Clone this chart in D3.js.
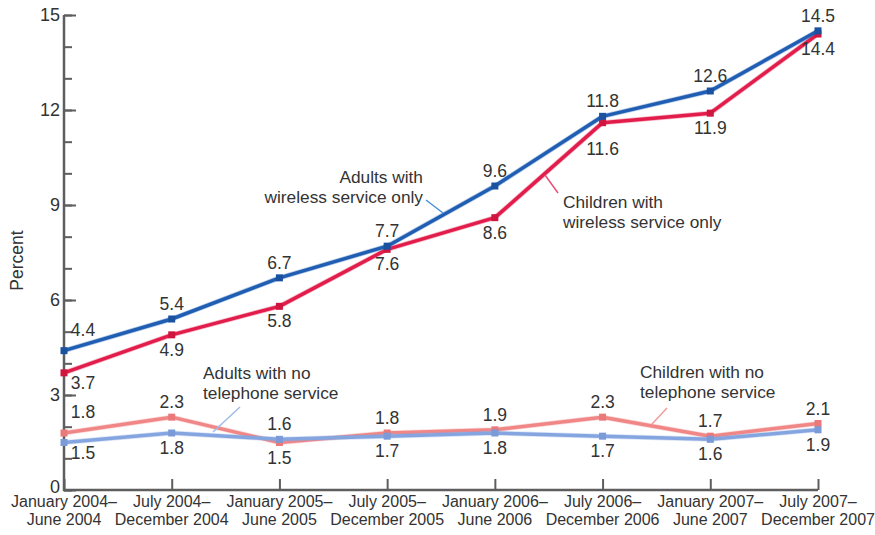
<!DOCTYPE html>
<html>
<head>
<meta charset="utf-8">
<script src="https://cdn.jsdelivr.net/npm/d3@7/dist/d3.min.js"></script>
<style>
  html, body { margin: 0; padding: 0; background: #fff; }
  svg { display: block; font-family: "Liberation Sans", Arial, sans-serif; }
</style>
</head>
<body>
<svg id="chart" width="875" height="535"></svg>
<script>
// Periods (two-line labels)
const periods = [
  ["January 2004–", "June 2004"],
  ["July 2004–", "December 2004"],
  ["January 2005–", "June 2005"],
  ["July 2005–", "December 2005"],
  ["January 2006–", "June 2006"],
  ["July 2006–", "December 2006"],
  ["January 2007–", "June 2007"],
  ["July 2007–", "December 2007"]
];

const adultsWireless   = [4.4, 5.4, 6.7, 7.7, 9.6, 11.8, 12.6, 14.5];
const childrenWireless = [3.7, 4.9, 5.8, 7.6, 8.6, 11.6, 11.9, 14.4];
const adultsNoPhone    = [1.5, 1.8, 1.6, 1.7, 1.8, 1.7, 1.6, 1.9];
const childrenNoPhone  = [1.8, 2.3, 1.5, 1.8, 1.9, 2.3, 1.7, 2.1];

const yTicks = [0, 3, 6, 9, 12, 15];

// Which side of the point each value label sits on ("a" above, "b" below)
const adultsWirelessSide   = ["a", "a", "a", "a", "a", "a", "a", "a"];
const childrenWirelessSide = ["b", "b", "b", "b", "b", "b", "b", "b"];
const adultsNoPhoneSide    = ["b", "b", "a", "b", "b", "b", "b", "b"];
const childrenNoPhoneSide  = ["a", "a", "b", "a", "a", "a", "a", "a"];

const svg = d3.select("#chart");
const margin = { left: 64, right: 57, top: 15, bottom: 45 };
const W = 875, H = 535;

const x = d3.scalePoint()
  .domain(d3.range(periods.length))
  .range([margin.left, W - margin.right]);

const y = d3.scaleLinear()
  .domain([0, 15])
  .range([H - margin.bottom, margin.top]);

const axisColor = "#5e5e5e";
const textColor = "#333";

// Y axis: major ticks every 3, minor every 1, drawn inward
const yAxisMinor = d3.axisRight(y)
  .tickValues(d3.range(0, 16, 1))
  .tickSize(8)
  .tickFormat("");
const gMinor = svg.append("g")
  .attr("transform", `translate(${margin.left},0)`)
  .call(yAxisMinor);
gMinor.select(".domain").remove();
gMinor.selectAll("line").attr("stroke", axisColor).attr("stroke-width", 2);

const yAxisMajor = d3.axisRight(y)
  .tickValues(yTicks)
  .tickSize(12)
  .tickFormat(d3.format("d"));
const gMajor = svg.append("g")
  .attr("transform", `translate(${margin.left},0)`)
  .call(yAxisMajor);
gMajor.select(".domain").remove();
gMajor.selectAll("line").attr("stroke", axisColor).attr("stroke-width", 2);
gMajor.selectAll("text")
  .attr("x", -4)
  .attr("dy", d => d === 0 ? "0.12em" : "0.32em")
  .attr("text-anchor", "end")
  .attr("font-size", 18)
  .attr("fill", textColor)
  .style("font-family", "Liberation Sans, Arial, sans-serif");

// Axis lines
svg.append("line")
  .attr("x1", margin.left).attr("x2", margin.left)
  .attr("y1", y(15)).attr("y2", y(0) + 1)
  .attr("stroke", axisColor).attr("stroke-width", 2.5);

// X axis with upward ticks
const xAxis = d3.axisTop(x).tickSize(11).tickFormat("");
const gx = svg.append("g")
  .attr("transform", `translate(0,${y(0)})`)
  .call(xAxis);
gx.select(".domain").remove();
gx.selectAll("line").attr("stroke", axisColor).attr("stroke-width", 2);
svg.append("line")
  .attr("x1", margin.left - 1).attr("x2", x(periods.length - 1))
  .attr("y1", y(0)).attr("y2", y(0))
  .attr("stroke", axisColor).attr("stroke-width", 2.5);

// X category labels
const xl = svg.append("g");
periods.forEach((p, i) => {
  const t = xl.append("text")
    .attr("text-anchor", "middle")
    .attr("font-size", 16)
    .attr("fill", textColor);
  t.append("tspan").attr("x", x(i)).attr("y", 507).text(p[0]);
  t.append("tspan").attr("x", x(i)).attr("y", 525).text(p[1]);
});

// Y axis title
svg.append("text")
  .attr("transform", `translate(23,${(y(15) + y(0)) / 2 + 8}) rotate(-90)`)
  .attr("text-anchor", "middle")
  .attr("font-size", 17.5)
  .attr("fill", textColor)
  .text("Percent");

// Series
const series = [
  { values: childrenNoPhone, side: childrenNoPhoneSide, color: "#f08686", marker: "#ea7a7a" },
  { values: adultsNoPhone, side: adultsNoPhoneSide, color: "#85a5e0", marker: "#7a9ad8" },
  { values: childrenWireless, side: childrenWirelessSide, color: "#e21d4b", marker: "#d0163f" },
  { values: adultsWireless, side: adultsWirelessSide, color: "#1f5eb3", marker: "#1a52a0" }
];

const line = d3.line()
  .x((d, i) => x(i))
  .y(d => y(d));

series.forEach(s => {
  svg.append("path")
    .datum(s.values)
    .attr("d", line)
    .attr("fill", "none")
    .attr("stroke", s.color)
    .attr("stroke-width", 5)
    .attr("stroke-opacity", 0.3)
    .attr("stroke-linejoin", "round");
  svg.append("path")
    .datum(s.values)
    .attr("d", line)
    .attr("fill", "none")
    .attr("stroke", s.color)
    .attr("stroke-width", 3.5)
    .attr("stroke-linejoin", "round");
  svg.append("g")
    .selectAll("rect")
    .data(s.values)
    .join("rect")
    .attr("x", (d, i) => x(i) - 3.5)
    .attr("y", d => y(d) - 3.5)
    .attr("width", 7)
    .attr("height", 7)
    .attr("fill", s.marker);
});

// Value labels
const labels = svg.append("g")
  .attr("font-size", 17.5)
  .attr("fill", textColor)
  .attr("text-anchor", "middle");

series.forEach(s => {
  s.values.forEach((v, i) => {
    const above = s.side[i] === "a";
    let dx = 0;
    let dy = above ? -9 : 21;
    if (i === 0) { dx = 19; dy = above ? -15 : 16; }
    if (s.values === childrenWireless && i === 5) dy = 32;
    labels.append("text")
      .attr("x", x(i) + dx)
      .attr("y", y(v) + dy)
      .text(v.toFixed(1));
  });
});

// Series annotations with leader lines
function annotate(lines, tx, ty, anchor, lx1, ly1, lx2, ly2, color) {
  const g = svg.append("g");
  g.append("line")
    .attr("x1", lx1).attr("y1", ly1)
    .attr("x2", lx2).attr("y2", ly2)
    .attr("stroke", color).attr("stroke-width", 1.5);
  const t = g.append("text")
    .attr("font-size", 17.3)
    .attr("fill", textColor)
    .attr("text-anchor", anchor);
  lines.forEach((l, k) => {
    t.append("tspan").attr("x", tx).attr("y", ty + k * 20).text(l);
  });
}

annotate(["Adults with", "wireless service only"], 423, 183, "end",
  426, 200, 443, 213, "#4a8fd6");
annotate(["Children with", "wireless service only"], 563, 208, "start",
  545, 175, 558, 193, "#e8507a");
annotate(["Adults with no", "telephone service"], 203, 379, "start",
  240, 407, 213, 432, "#9fbbe8");
annotate(["Children with no", "telephone service"], 640, 378, "start",
  667, 408, 652, 424, "#f29a9a");
</script>
</body>
</html>
